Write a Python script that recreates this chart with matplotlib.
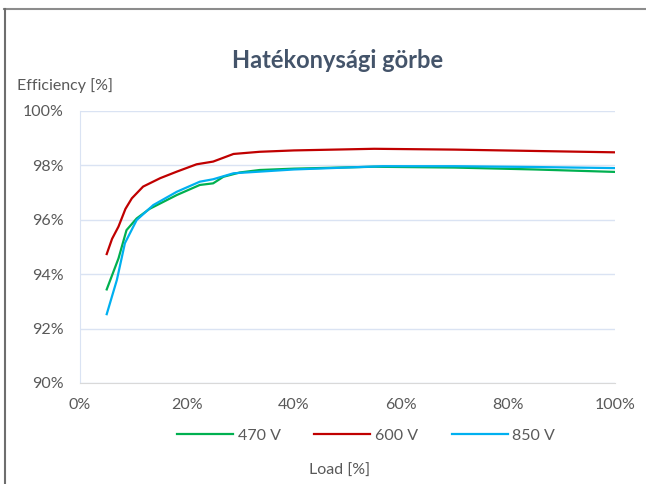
import matplotlib.pyplot as plt
from matplotlib.lines import Line2D

# load [%] and efficiency [%] per DC voltage
load_470 = [5, 7.2, 8.7, 10.6, 13, 15, 18.1, 22.4, 24.9, 26.8, 29.9, 33.6, 40, 55, 70, 85, 100]
eff_470 = [93.44, 94.58, 95.62, 96.05, 96.4, 96.6, 96.91, 97.28, 97.34, 97.58, 97.74, 97.83, 97.88, 97.95, 97.92, 97.85, 97.76]

load_600 = [5, 6, 7.2, 8.5, 9.7, 11.8, 15, 18.1, 21.8, 24.9, 28.7, 33.6, 40, 55, 70, 85, 100]
eff_600 = [94.74, 95.3, 95.75, 96.4, 96.79, 97.22, 97.53, 97.77, 98.04, 98.14, 98.42, 98.5, 98.55, 98.61, 98.58, 98.53, 98.48]

load_850 = [5, 6.9, 8.4, 10.6, 13.7, 18.1, 22.4, 24.9, 28.7, 33.6, 40, 56.6, 70, 85, 100]
eff_850 = [92.53, 93.79, 95.14, 95.99, 96.54, 97.03, 97.4, 97.49, 97.71, 97.77, 97.85, 97.97, 97.97, 97.94, 97.9]

x_ticks = [0, 20, 40, 60, 80, 100]
y_ticks = [90, 92, 94, 96, 98, 100]

plt.rcParams['font.family'] = ['Lato', 'DejaVu Sans']
text_col = '#595959'

fig = plt.figure(figsize=(6.46, 4.84), dpi=100, facecolor='white')
ax = fig.add_axes([0.1238, 0.2087, 0.828, 0.562])

ax.plot(load_470, eff_470, color='#00b050', lw=1.6, label='470 V')
ax.plot(load_600, eff_600, color='#c00000', lw=1.6, label='600 V')
ax.plot(load_850, eff_850, color='#00b0f0', lw=1.6, label='850 V')

ax.set_xlim(0, 100)
ax.set_ylim(90, 100)
ax.set_xticks(x_ticks)
ax.set_xticklabels([f'{t}%' for t in x_ticks])
ax.set_yticks(y_ticks)
ax.set_yticklabels([f'{t}%' for t in y_ticks])
ax.tick_params(length=0, labelsize=11.5, labelcolor=text_col)
ax.tick_params(axis='y', pad=12)
ax.tick_params(axis='x', pad=11)
ax.grid(axis='y', color='#dae3f3', lw=1)
ax.set_axisbelow(True)
for s in ['top', 'right']:
    ax.spines[s].set_visible(False)
ax.spines['left'].set_color('#dae3f3')
ax.spines['bottom'].set_color('#d9d9d9')

fig.text(0.523, 0.875, 'Hatékonysági görbe', ha='center', va='center',
         fontsize=17, fontweight='bold', color='#44546a')
fig.text(0.026, 0.823, 'Efficiency [%]', ha='left', va='center', fontsize=11.5, color=text_col)
fig.text(0.526, 0.028, 'Load [%]', ha='center', va='center', fontsize=11.5, color=text_col)

fig.legend(loc='center', bbox_to_anchor=(0.567, 0.10), ncol=3, frameon=False,
           fontsize=11.5, labelcolor=text_col, handlelength=3.5, columnspacing=2.1,
           handletextpad=0.3)

# outer chart frame
fig.add_artist(Line2D([0.006, 1.0], [0.981, 0.981], color='#8c8c8c', lw=1.5))
fig.add_artist(Line2D([0.007, 0.007], [0.0, 0.981], color='#6e6e6e', lw=1.5))

fig.savefig('out.png', dpi=100, facecolor='white')
